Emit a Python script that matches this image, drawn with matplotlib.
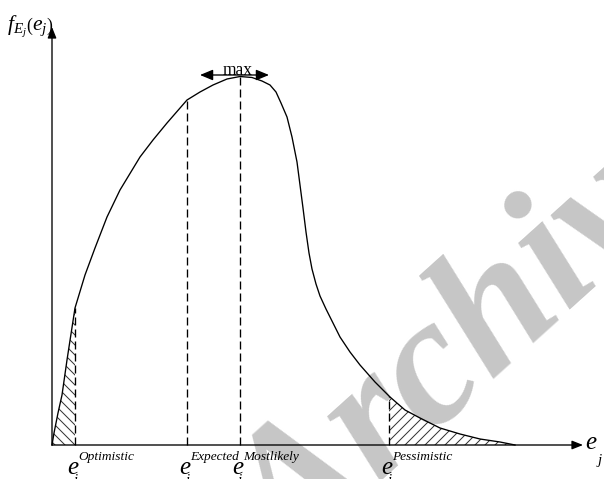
import numpy as np
import matplotlib
matplotlib.use("Agg")
import matplotlib.pyplot as plt

plt.rcParams['font.family'] = ['Liberation Serif', 'DejaVu Serif']
plt.rcParams['mathtext.fontset'] = 'custom'
plt.rcParams['mathtext.rm'] = 'Liberation Serif'
plt.rcParams['mathtext.it'] = 'Liberation Serif:italic'
plt.rcParams['hatch.linewidth'] = 0.6

# effort (x) vs density (y)
effort = [0, 2, 6, 10, 15, 23, 33, 43, 55, 68, 88, 101, 115, 135, 148, 161, 175,
          188, 200, 210, 218, 224, 229, 235, 240, 245, 248, 251, 254, 257, 260,
          264, 268, 274, 280, 288, 298, 308, 323, 338, 353, 368, 388, 408, 428,
          448, 463]
density = [0, 12, 32, 50, 85, 137, 170, 197, 228, 255, 288, 305, 322, 345, 353,
           360, 366, 368.5, 367.5, 364, 360, 353, 342, 328, 308, 283, 260, 237,
           213, 192, 176, 161, 149, 136, 124, 108, 93, 80, 63, 48, 35, 27, 17,
           11, 6, 3, 0]

e_optimistic = 23
e_expected = 135
e_likely = 188
e_pessimistic = 337

marker_names = ['Optimistic', 'Expected', 'Mostlikely', 'Pessimistic']
marker_subs = ['i', 'i', 'j', 'i']
marker_x = [e_optimistic, e_expected, e_likely, e_pessimistic]

effort = np.array(effort, dtype=float)
density = np.array(density, dtype=float)

fig = plt.figure(figsize=(604 / 120, 479 / 120), dpi=120)
ax = fig.add_axes([0, 0, 1, 1])
ax.set_xlim(-52, 552)
ax.set_ylim(-34, 445)
ax.axis('off')

# watermark
ax.text(428, 104, 'Archive', fontsize=110, fontweight='bold', style='italic',
        color='#c6c6c6', rotation=42, ha='center', va='center', zorder=0)

# axes with arrows
arrow_kw = dict(arrowstyle='-|>,head_length=0.55,head_width=0.22', lw=0.8,
                color='black', shrinkA=0, shrinkB=0)
ax.annotate('', xy=(531, 0), xytext=(0, 0), arrowprops=arrow_kw, zorder=3)
ax.annotate('', xy=(0, 418), xytext=(0, 0), arrowprops=arrow_kw, zorder=3)

# density curve
ax.plot(effort, density, color='black', lw=0.8, zorder=3)

# hatched tails
left = effort <= e_optimistic
ax.fill_between(effort[left], 0, density[left], facecolor='none',
                edgecolor='#333333', hatch='\\\\\\\\', linewidth=0, zorder=2)
xr = np.concatenate([[e_pessimistic], effort[effort > e_pessimistic]])
yr = np.interp(xr, effort, density)
ax.fill_between(xr, 0, yr, facecolor='none', edgecolor='#333333',
                hatch='////', linewidth=0, zorder=2)

# dashed markers
for xv in marker_x:
    yv = np.interp(xv, effort, density)
    ax.plot([xv, xv], [0, yv], color='black', lw=0.8, ls=(0, (6, 3)), zorder=3)

# max arrow
ax.annotate('', xy=(148, 370), xytext=(217, 370),
            arrowprops=dict(arrowstyle='<|-|>,head_length=0.65,head_width=0.27',
                            lw=0.8, color='black', shrinkA=0, shrinkB=0), zorder=4)
ax.text(186, 370.5, 'max', fontsize=10.5, ha='center', va='baseline', zorder=4)

# marker labels
for xv, name, sub in zip(marker_x, marker_names, marker_subs):
    x0 = xv - 8
    ax.text(x0, -29, 'e', fontsize=15, style='italic', va='baseline', zorder=4)
    ax.text(x0 + 11.5, -15, name, fontsize=8, style='italic', va='baseline', zorder=4)
    ax.text(x0 + 6, -39, sub, fontsize=9, style='italic', va='baseline', zorder=4)

# axis labels
ax.text(533, -4, 'e', fontsize=15, style='italic', va='baseline')
ax.text(546, -19, 'j', fontsize=9, style='italic', va='baseline')
ax.text(-45, 415, r'$f_{E_j}\left(e_j\right)$', fontsize=13, va='baseline')

fig.savefig('out.png', dpi=120)
